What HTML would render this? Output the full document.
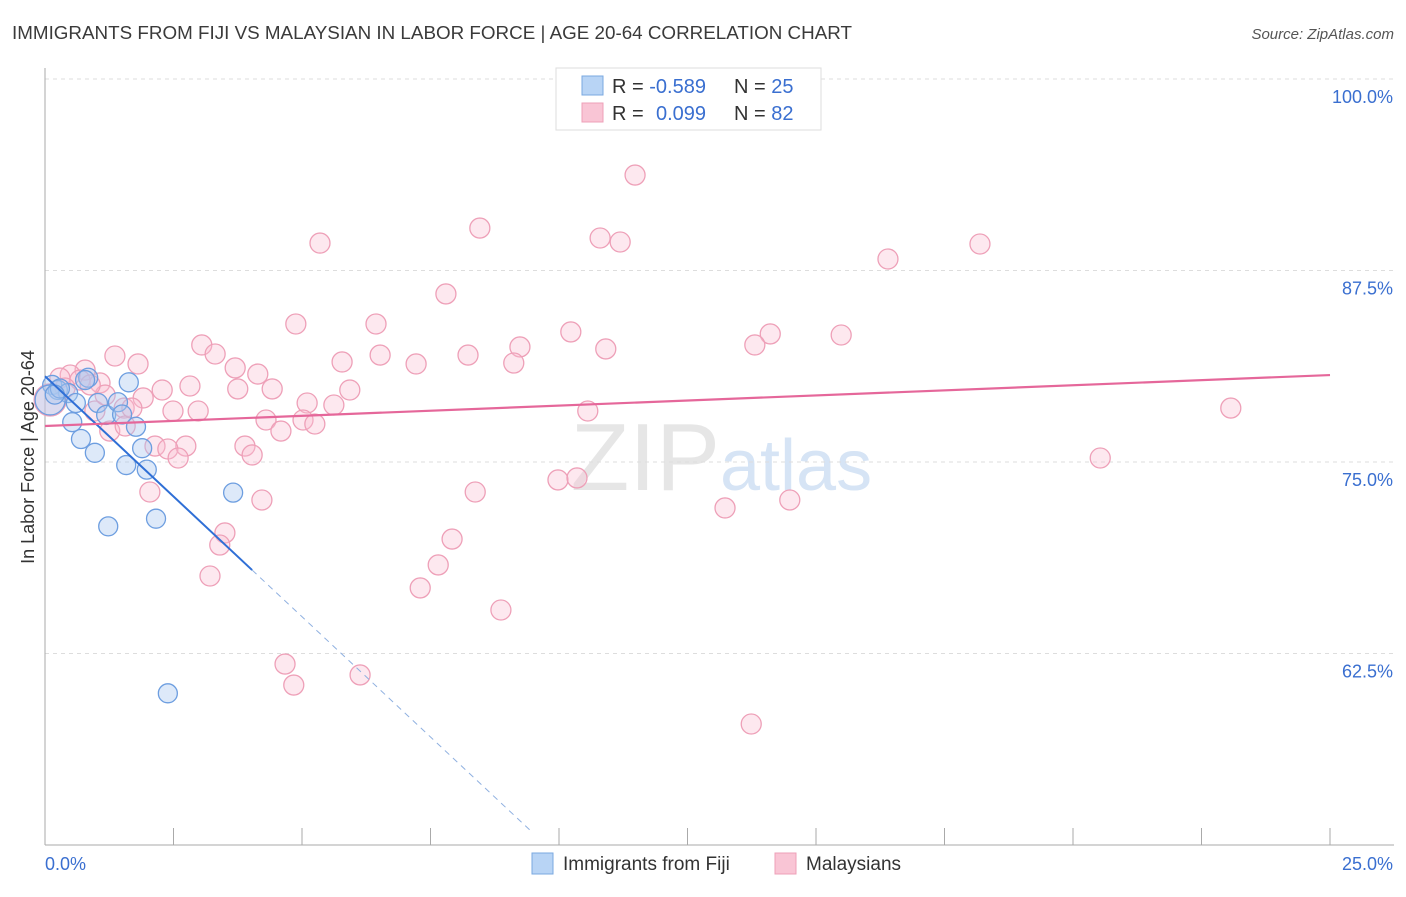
<!DOCTYPE html>
<html><head><meta charset="utf-8"><style>
body{margin:0;background:#fff;font-family:"Liberation Sans",sans-serif}
svg text{font-family:"Liberation Sans",sans-serif}
</style></head><body>
<svg id="c" width="1406" height="892" xmlns="http://www.w3.org/2000/svg">
<text x="12" y="39" font-size="18" fill="#3a3a3a" textLength="840" lengthAdjust="spacingAndGlyphs">IMMIGRANTS FROM FIJI VS MALAYSIAN IN LABOR FORCE | AGE 20-64 CORRELATION CHART</text>
<text x="1394" y="39" font-size="15" fill="#555" text-anchor="end" font-style="italic">Source: ZipAtlas.com</text>
<text x="720" y="490" font-size="96" fill="#e6e6e6" text-anchor="end" font-family="Liberation Serif">ZIP</text>
<text x="720" y="490" font-size="72" fill="#d6e4f5">atlas</text>
<g id="grid"></g><g id="axes"></g><g id="pink"></g><g id="blue"></g><g id="lines"></g>
<text transform="translate(34,457) rotate(-90)" font-size="18" fill="#333" text-anchor="middle">In Labor Force | Age 20-64</text>
<g>
<rect x="556" y="68" width="265" height="62" fill="#fff" stroke="#ddd"/>
<rect x="582" y="76" width="21" height="19" fill="#b8d4f5" stroke="#7aa8e0"/>
<text x="612" y="93" font-size="20" fill="#333">R = <tspan fill="#3a6fd0">-0.589</tspan></text>
<text x="734" y="93" font-size="20" fill="#333">N = <tspan fill="#3a6fd0">25</tspan></text>
<rect x="582" y="103" width="21" height="19" fill="#f9c5d5" stroke="#eea0b8"/>
<text x="612" y="120" font-size="20" fill="#333">R = </text>
<text x="656" y="120" font-size="20" fill="#3a6fd0">0.099</text>
<text x="734" y="120" font-size="20" fill="#333">N = <tspan fill="#3a6fd0">82</tspan></text>
</g>
<g>
<rect x="532" y="853" width="21" height="21" fill="#b8d4f5" stroke="#7aa8e0"/>
<text x="563" y="870" font-size="19" fill="#333">Immigrants from Fiji</text>
<rect x="775" y="853" width="21" height="21" fill="#f9c5d5" stroke="#eea0b8"/>
<text x="806" y="870" font-size="19" fill="#333">Malaysians</text>
</g>
</svg>
<script>
const yTicks=[100,87.5,75,62.5];
const yTickLabels=["100.0%","87.5%","75.0%","62.5%"];
const xTicks=[0,2.5,5,7.5,10,12.5,15,17.5,20,22.5,25];
const fijiX=[0.14,0.25,0.45,0.6,0.53,0.7,0.97,0.84,1.03,1.19,1.42,1.5,1.63,1.77,1.89,1.98,1.58,1.23,2.16,3.66,2.39,0.1,0.29,0.78,0.19];
const fijiY=[80.03,79.7,79.5,78.85,77.6,76.5,75.6,80.5,78.85,78.07,78.9,78.1,80.2,77.3,75.9,74.5,74.8,70.8,71.3,73.0,59.9,79.05,79.8,80.35,79.4];
const malX=[11.48,8.46,5.35,10.8,11.19,16.4,18.19,7.8,4.88,6.44,10.23,14.11,15.49,13.81,3.05,9.24,10.91,3.31,8.23,6.52,1.36,5.78,7.22,9.12,1.81,3.7,4.14,0.78,0.49,0.29,1.07,2.82,2.28,3.75,4.42,5.93,1.91,5.1,1.54,0.97,2.49,2.98,5.62,4.3,5.02,5.25,1.26,1.56,4.59,23.07,2.14,2.74,2.39,3.89,4.03,2.59,20.53,9.98,10.35,2.04,8.37,4.22,14.49,13.23,3.5,7.92,3.4,7.65,3.21,7.3,8.87,4.67,4.84,6.13,13.74,10.56,1.69,0.68,0.39,1.17,0.88,0.1];
const malY=[93.73,90.27,89.29,89.62,89.36,88.25,89.23,85.97,84.01,84.01,83.49,83.36,83.29,82.64,82.64,82.51,82.38,82.05,81.98,81.98,81.92,81.53,81.4,81.46,81.4,81.14,80.74,81.0,80.68,80.48,80.16,79.96,79.7,79.77,79.77,79.7,79.18,78.85,78.52,78.33,78.33,78.33,78.72,77.74,77.74,77.48,77.02,77.35,77.02,78.52,76.04,76.04,75.85,76.04,75.46,75.26,75.26,73.83,73.96,73.04,73.04,72.52,72.52,72.0,70.37,69.97,69.58,68.28,67.56,66.78,65.34,61.81,60.44,61.1,57.9,78.33,78.52,80.35,79.83,79.37,80.03,79.05];
const fijiTrend=[80.6,-3.14]; const fijiSolidEnd=4.03, fijiDashEnd=9.44;
const malTrend=[77.35,0.133];
const X=v=>45+v*51.4, Y=v=>79+(100-v)*15.32;
const NS="http://www.w3.org/2000/svg";
function mk(p,t,a){const e=document.createElementNS(NS,t);for(const k in a)e.setAttribute(k,a[k]);document.getElementById(p).appendChild(e);return e;}
yTicks.forEach((t,i)=>{
 const g=mk('grid','line',{x1:45,x2:1394,y1:Y(t),y2:Y(t),stroke:'#ddd','stroke-dasharray':'4,4'});
 
 
 const l=mk('grid','text',{x:1393,y:Y(t)+24,'font-size':18,fill:'#3a6fd0','text-anchor':'end'});
 l.textContent=yTickLabels[i];
 
 
});
const ax=mk('axes','line',{x1:45,x2:45,y1:68,y2:845,stroke:'#aaa'});


const bx=mk('axes','line',{x1:45,x2:1394,y1:845,y2:845,stroke:'#aaa'});


xTicks.forEach(t=>{const k=mk('axes','line',{x1:X(t),x2:X(t),y1:828,y2:845,stroke:'#aaa'});
 
 });
const x0=mk('axes','text',{x:45,y:870,'font-size':18,fill:'#3a6fd0'});x0.textContent="0.0%";


const x1=mk('axes','text',{x:1393,y:870,'font-size':18,fill:'#3a6fd0','text-anchor':'end'});x1.textContent="25.0%";


malX.forEach((v,i)=>{const c=mk('pink','circle',{cx:X(v),cy:Y(malY[i]),r:i==malX.length-1?16:10,fill:'rgba(249,190,210,0.35)',stroke:'#eea0b8','stroke-width':1.3});
 
 });
fijiX.forEach((v,i)=>{const c=mk('blue','circle',{cx:X(v),cy:Y(fijiY[i]),r:i==21?15:9.5,fill:'rgba(170,200,240,0.4)',stroke:'#6d9ee0','stroke-width':1.3});
 
 });
const f=x=>fijiTrend[0]+fijiTrend[1]*x, m=x=>malTrend[0]+malTrend[1]*x;
const l1=mk('lines','line',{x1:X(0),y1:Y(f(0)),x2:X(fijiSolidEnd),y2:Y(f(fijiSolidEnd)),stroke:'#2f6fd6','stroke-width':2});


const l2=mk('lines','line',{x1:X(fijiSolidEnd),y1:Y(f(fijiSolidEnd)),x2:X(fijiDashEnd),y2:Y(f(fijiDashEnd)),stroke:'#8fb0e0','stroke-width':1,'stroke-dasharray':'6,5'});


const l3=mk('lines','line',{x1:X(0),y1:Y(m(0)),x2:X(25),y2:Y(m(25)),stroke:'#e5679a','stroke-width':2.2});


</script>
</body></html>
